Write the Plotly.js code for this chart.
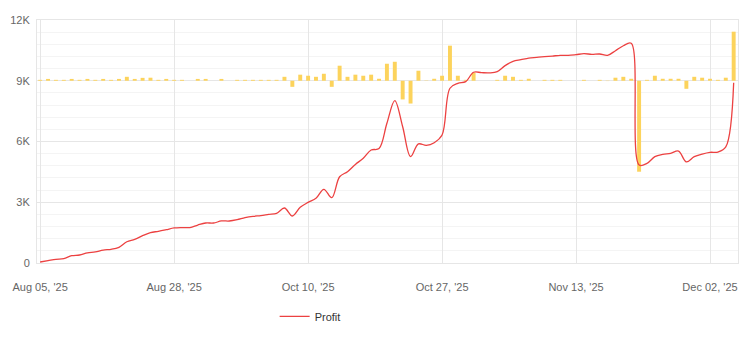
<!DOCTYPE html>
<html>
<head>
<meta charset="utf-8">
<script src="https://cdn.plot.ly/plotly-3.0.1.min.js"></script>
<style>html,body{margin:0;padding:0;background:#fff;}#chart{width:746px;height:351px;}</style>
</head>
<body>
<div id="chart"></div>
<script>
// Cumulative profit per trading day (index 0..88)
const profit = [50,115,180,215,360,395,495,545,640,675,775,1050,1170,1350,1500,1565,1645,1730,1750,1750,1875,1975,1975,2075,2075,2140,2240,2305,2340,2400,2455,2715,2320,2750,2995,3195,3640,3225,4260,4510,4870,5170,5580,5650,6900,8020,6730,5250,5880,5810,5940,6320,8630,8870,8955,9420,9400,9390,9450,9745,9960,10040,10120,10155,10190,10220,10255,10255,10290,10335,10305,10320,10255,10485,10730,10850,4840,4920,5250,5365,5415,5530,4990,5250,5380,5465,5480,5730,8900];
// Daily profit bars
const daily = [60,120,60,60,120,60,120,60,120,60,120,260,120,190,200,60,120,60,60,0,120,120,0,120,0,60,60,60,60,60,60,260,-400,400,330,260,460,-400,990,260,400,330,400,130,1120,1250,-1230,-1500,660,20,130,330,2310,330,60,530,0,0,60,330,260,60,130,0,60,60,60,0,0,60,0,60,-20,200,260,130,-5990,60,330,130,130,130,-530,260,200,130,60,200,3230];
const tickIdx = [0,17,34,51,68,85];
const tickLabels = ["Aug 05, '25","Aug 28, '25","Oct 10, '25","Oct 27, '25","Nov 13, '25","Dec 02, '25"];
const yTicks = [0,3000,6000,9000,12000];
const yTickLabels = ["0","3K","6K","9K","12K"];

const xs = profit.map((_, i) => i);

const traces = [
  {
    type: 'bar', x: xs, y: daily, yaxis: 'y', width: 0.5,
    marker: {color: '#fcd35c'}, showlegend: false, hoverinfo: 'skip'
  },
  {
    type: 'scatter', mode: 'lines', name: 'Profit', x: xs, y: profit, yaxis: 'y2',
    line: {color: '#ec4141', width: 1.3, shape: 'spline', smoothing: 1}
  }
];

const grid = '#e6e6e6';
const layout = {
  width: 746, height: 351,
  margin: {l: 37, r: 8, t: 20, b: 88},
  paper_bgcolor: '#fff', plot_bgcolor: '#fff',
  font: {family: 'Liberation Sans, Arial, sans-serif', size: 11, color: '#666'},
  bargap: 0.5,
  xaxis: {
    range: [-0.4, 88.55], tickmode: 'array', tickvals: tickIdx, ticktext: tickLabels,
    showgrid: true, gridcolor: grid, gridwidth: 1, zeroline: false,
    showline: true, linecolor: grid, mirror: true, ticks: '', ticklen: 0,
    ticklabelstandoff: 14,
    tickfont: {size: 11, color: '#666'}
  },
  yaxis: {
    range: [-12000, 4000], visible: false, showgrid: false, zeroline: false, fixedrange: true
  },
  yaxis2: {
    overlaying: 'y', side: 'left', range: [0, 12000],
    tickmode: 'array', tickvals: yTicks, ticktext: yTickLabels,
    showgrid: true, gridcolor: grid, zeroline: false,
    showline: true, linecolor: grid, mirror: true, ticks: '', ticklabelstandoff: 4,
    minor: {dtick: 600, showgrid: true, gridcolor: '#f4f4f4', gridwidth: 1},
    tickfont: {size: 11, color: '#666'}
  },
  showlegend: true,
  legend: {
    orientation: 'h', x: 0.339, xanchor: 'left', y: -0.16, yanchor: 'top',
    font: {size: 11, color: '#333'}, bgcolor: 'rgba(0,0,0,0)'
  }
};

Plotly.newPlot('chart', traces, layout, {displayModeBar: false, staticPlot: true});
</script>
</body>
</html>
